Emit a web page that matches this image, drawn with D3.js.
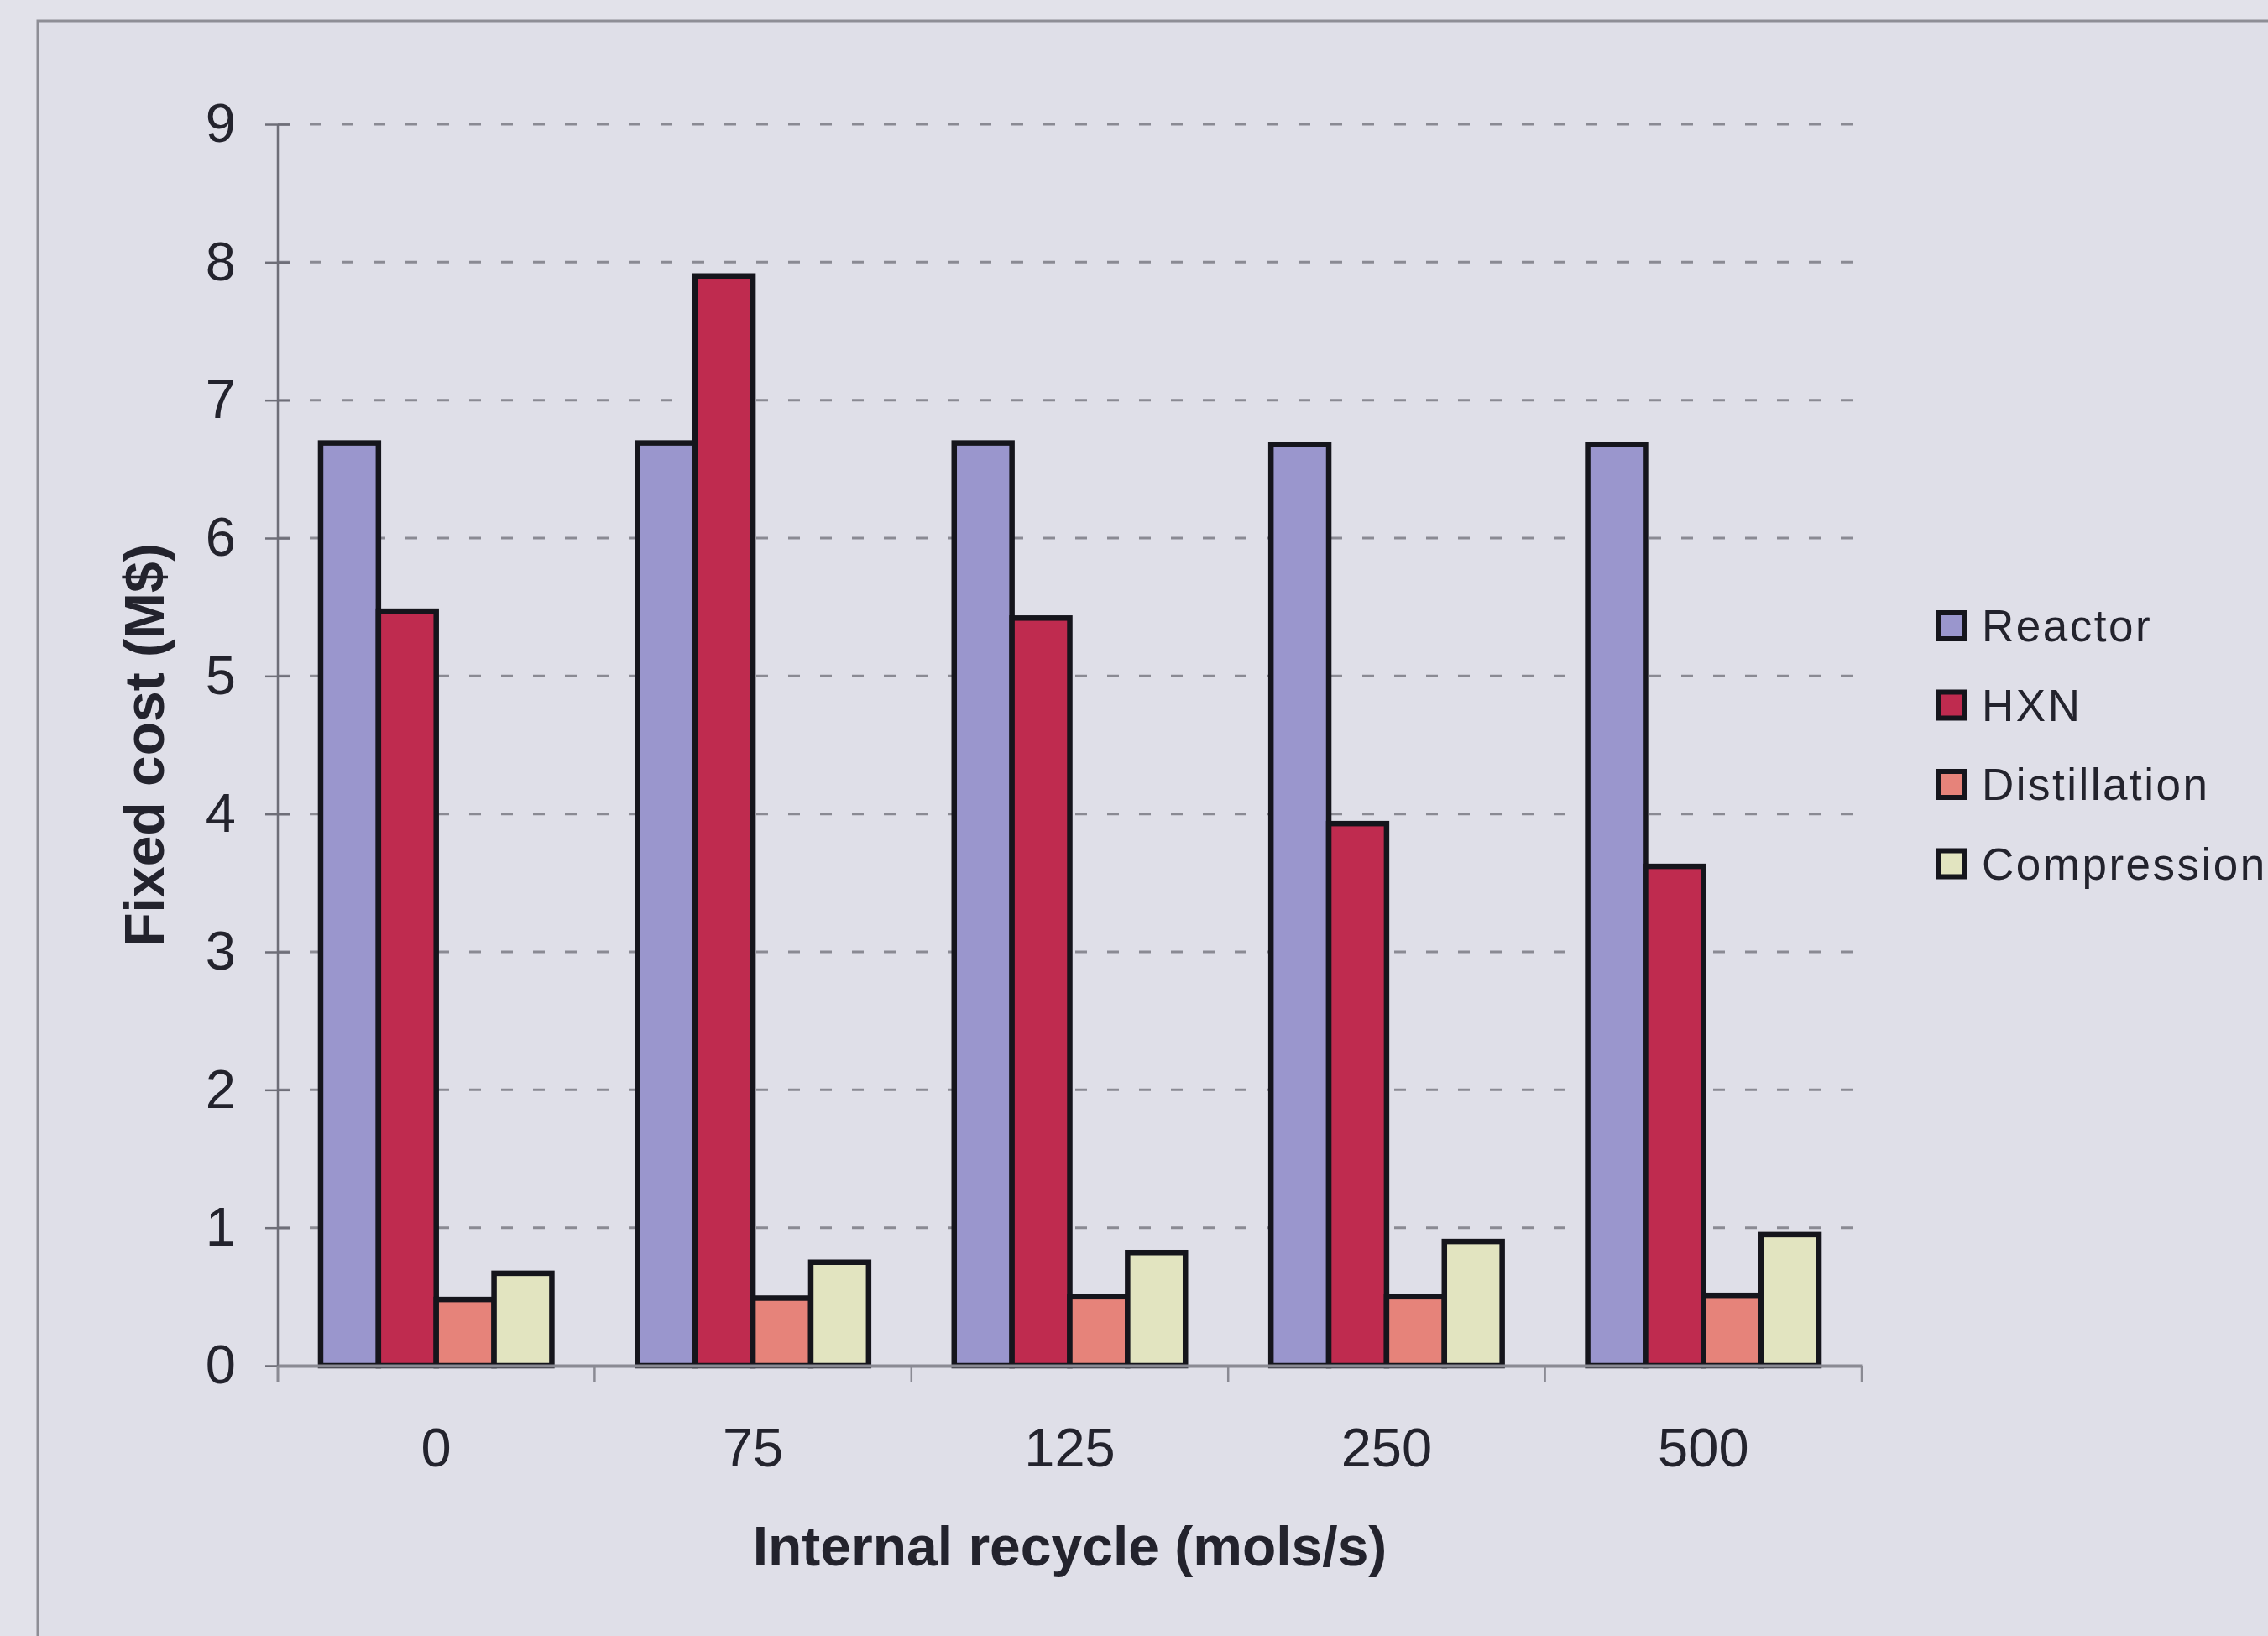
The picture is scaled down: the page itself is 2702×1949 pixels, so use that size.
<!DOCTYPE html>
<html>
<head>
<meta charset="utf-8">
<script src="https://cdn.jsdelivr.net/npm/d3@7"></script>
<style>
  html, body { margin: 0; padding: 0; background: #e2e2ea; }
  svg { display: block; }
  text { font-family: "Liberation Sans", Arial, sans-serif; fill: #23232d; }
</style>
</head>
<body>
<svg id="chart" width="2702" height="1949"></svg>
<script>
// Fixed cost breakdown per internal recycle rate
const categories = ["0", "75", "125", "250", "500"];
const seriesNames = ["Reactor", "HXN", "Distillation", "Compression"];
const reactor      = [6.69, 6.69, 6.69, 6.68, 6.68];
const hxn          = [5.47, 7.90, 5.42, 3.93, 3.62];
const distillation = [0.48, 0.49, 0.50, 0.50, 0.51];
const compression  = [0.67, 0.75, 0.82, 0.90, 0.95];
const seriesColors = ["#9a96cd", "#bf2b4f", "#e6837a", "#e2e4c0"];
const yTicks = [0, 1, 2, 3, 4, 5, 6, 7, 8, 9];

const seriesValues = [reactor, hxn, distillation, compression];
const rows = categories.map((c, i) => ({
  cat: c,
  vals: seriesNames.map((s, j) => ({ key: s, value: seriesValues[j][i] }))
}));

const svg = d3.select("#chart");
const W = 2702, H = 1949;
const plot = { left: 331, right: 2218, top: 148, bottom: 1627 };

svg.append("rect").attr("width", W).attr("height", H).attr("fill", "#e2e2ea");

// chart frame
svg.append("rect")
  .attr("x", 45).attr("y", 25).attr("width", 3000).attr("height", 3000)
  .attr("fill", "#dfdfe8").attr("stroke", "#8e8e96").attr("stroke-width", 3);

const x0 = d3.scaleBand().domain(categories).range([plot.left, plot.right]).padding(0);
const x1 = d3.scaleBand().domain(seriesNames).range([0, x0.bandwidth()])
  .paddingInner(0).paddingOuter(0.74);
const y = d3.scaleLinear().domain([0, 9]).range([plot.bottom, plot.top]);
const color = d3.scaleOrdinal().domain(seriesNames).range(seriesColors);

// dashed gridlines
svg.append("g").selectAll("line")
  .data(yTicks.filter(t => t > 0))
  .join("line")
  .attr("x1", plot.left).attr("x2", plot.right)
  .attr("y1", d => y(d)).attr("y2", d => y(d))
  .attr("stroke", "#8a8a93").attr("stroke-width", 3)
  .attr("stroke-dasharray", "14 24");

// bars
const groups = svg.append("g").selectAll("g")
  .data(rows).join("g")
  .attr("transform", d => `translate(${x0(d.cat)},0)`);
groups.selectAll("rect")
  .data(d => d.vals).join("rect")
  .attr("x", d => x1(d.key))
  .attr("width", x1.bandwidth())
  .attr("y", d => y(d.value))
  .attr("height", d => y(0) - y(d.value))
  .attr("fill", d => color(d.key))
  .attr("stroke", "#15151c").attr("stroke-width", 6.5);

// y axis
const yAxis = svg.append("g")
  .attr("transform", `translate(${plot.left},0)`)
  .call(d3.axisLeft(y).tickValues(yTicks).tickFormat(d3.format("d"))
    .tickSize(15).tickPadding(35));
yAxis.select(".domain").attr("stroke", "#6e6e78").attr("stroke-width", 2.5)
  .attr("d", `M0,${plot.top}V${plot.bottom + 20}`);
yAxis.selectAll(".tick line").attr("x1", 15).attr("stroke", "#6e6e78").attr("stroke-width", 2.5);
yAxis.selectAll(".tick text").attr("font-size", 65).style("fill", "#23232d");

// x axis: labels at category centres, ticks at category boundaries
const xAxis = svg.append("g")
  .attr("transform", `translate(0,${plot.bottom})`)
  .call(d3.axisBottom(x0).tickSize(0).tickPadding(74));
xAxis.select(".domain").attr("stroke", "#8a8a93").attr("stroke-width", 4);
xAxis.selectAll(".tick text").attr("font-size", 65).style("fill", "#23232d");
const bounds = categories.map(c => x0(c)).concat([x0.range()[1]]);
xAxis.append("g").selectAll("line")
  .data(bounds).join("line")
  .attr("x1", d => d).attr("x2", d => d)
  .attr("y1", 0).attr("y2", 20)
  .attr("stroke", "#8a8a93").attr("stroke-width", 2.5);

// axis titles
svg.append("text")
  .attr("x", (plot.left + plot.right) / 2).attr("y", 1865)
  .attr("text-anchor", "middle").attr("font-size", 66).attr("font-weight", "bold")
  .text("Internal recycle (mols/s)");
svg.append("text")
  .attr("transform", `translate(195,${(plot.top + plot.bottom) / 2}) rotate(-90)`)
  .attr("text-anchor", "middle").attr("font-size", 66).attr("font-weight", "bold")
  .text("Fixed cost (M$)");

// legend
const legend = svg.append("g").attr("transform", "translate(2306,746)");
const item = legend.selectAll("g").data(seriesNames).join("g")
  .attr("transform", (d, i) => `translate(0,${i * 94.5})`);
item.append("rect")
  .attr("x", 3).attr("y", -16).attr("width", 31).attr("height", 31)
  .attr("fill", d => color(d)).attr("stroke", "#15151c").attr("stroke-width", 6);
item.append("text")
  .attr("x", 55).attr("y", 18)
  .attr("font-size", 53).attr("letter-spacing", 2.5)
  .text(d => d);
</script>
</body>
</html>
